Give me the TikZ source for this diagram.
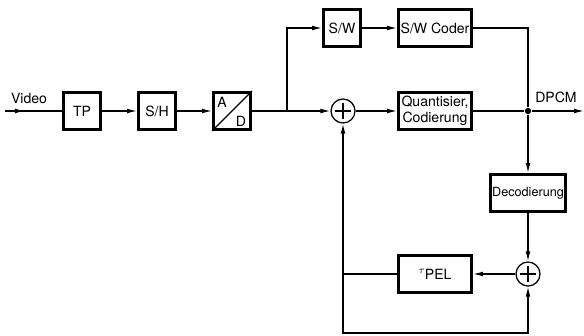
\documentclass[tikz,border=0pt]{standalone}
\usepackage{fontspec}
\setmainfont{TeX Gyre Heros}
\usetikzlibrary{arrows.meta}
\tikzset{
  >={Latex[length=2.5mm,width=1.2mm]},
  blk/.style={draw,line width=2.2pt,minimum height=0.92cm,inner sep=1pt,font=\fontsize{10}{11}\selectfont},
  sq/.style={blk,minimum width=0.92cm},
  wd/.style={blk,minimum width=1.82cm,align=center},
  sm/.style={circle,draw,minimum size=0.6cm,inner sep=0pt,
    path picture={\draw ([yshift=-0.09cm]path picture bounding box.north)--([yshift=0.09cm]path picture bounding box.south);
      \draw ([xshift=0.09cm]path picture bounding box.west)--([xshift=-0.09cm]path picture bounding box.east);}},
  d/.style={circle,fill,inner sep=1.6pt},
  lb/.style={font=\fontsize{10}{11}\selectfont},
  every picture/.style={line width=0.9pt},
}
\begin{document}
\begin{tikzpicture}[x=0.025cm,y=-0.025cm]
\useasboundingbox (0,0) rectangle (584,335);
\node[sq] (TP) at (82,111){TP}; \node[sq] (SH) at (157,111){S/H}; \node[sq] (AD) at (232,111){};
\node[sq] (SW) at (342,28){S/W}; \node[wd] (SWC) at (435,28){S/W Coder};
\node[wd] (Q) at (435,111){Quantisier,\\Codierung}; \node[sm] (S1) at (343,111){};
\node[blk,minimum width=1.82cm,font=\fontsize{9}{10}\selectfont] (Dec) at (528,193){Decodierung};
\node[sm] (S2) at (528,274){}; \node[wd] (Tau) at (435,274){\raisebox{4pt}{\scriptsize$\tau$}PEL};
\node[d] (jd) at (528,111){};
\coordinate (vin) at (5,111); \coordinate (varr) at (25,111); \coordinate (j1) at (287,111);
\coordinate (out) at (584,111); \coordinate (cl) at (343,274); \coordinate (cb) at (343,333);
\node[lb] (lv) at (29,98){Video}; \node[lb] (lo) at (556,97){DPCM};
% A/D converter
\draw (AD.south west) -- (AD.north east);
\node[lb,inner sep=0pt] (la) at (222,102){A}; \node[lb,inner sep=0pt] (ld) at (241,121){D};
% signal path
\draw (vin) -- (TP); \draw[->] (vin) -- (varr);
\draw[->] (TP) -- (SH); \draw[->] (SH) -- (AD); \draw[->] (AD) -- (S1);
\draw[->] (j1) |- (SW); \draw[->] (SW) -- (SWC); \draw (SWC) -| (jd);
\draw[->] (S1) -- (Q); \draw (Q) -- (jd); \draw[->] (jd) -- (out);
\draw[->] (jd) -- (Dec); \draw[->] (Dec) -- (S2); \draw[->] (S2) -- (Tau);
% prediction loop
\draw (Tau) -- (cl); \draw[->] (cl) -- (S1); \draw[->] (cl) -- (cb) -| (S2);
\end{tikzpicture}
\end{document}
